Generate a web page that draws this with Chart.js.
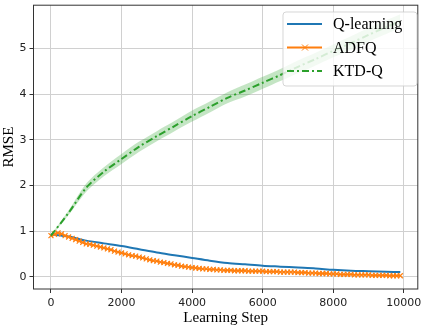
<!DOCTYPE html>
<html>
<head>
<meta charset="utf-8">
<script src="https://cdn.jsdelivr.net/npm/chart.js@4.4.1/dist/chart.umd.min.js"></script>
<style>
  body { margin: 0; background: #fff; }
</style>
</head>
<body>
<canvas id="rmseChart" width="423" height="327"></canvas>
<script>
// ADFQ is logged every 100 steps
const adfqSteps = Array.from({ length: 100 }, (_, i) => i * 100);
const adfqRmse = [
  0.90, 0.93, 0.96, 0.94, 0.90, 0.87, 0.84, 0.81, 0.78, 0.75,
  0.72, 0.71, 0.69, 0.67, 0.65, 0.63, 0.61, 0.59, 0.56, 0.54,
  0.52, 0.50, 0.48, 0.46, 0.45, 0.43, 0.41, 0.39, 0.37, 0.35,
  0.34, 0.32, 0.31, 0.29, 0.28, 0.26, 0.25, 0.23, 0.22, 0.21,
  0.20, 0.19, 0.18, 0.17, 0.17, 0.16, 0.16, 0.15, 0.15, 0.14,
  0.14, 0.14, 0.13, 0.13, 0.13, 0.13, 0.12, 0.12, 0.12, 0.12,
  0.12, 0.11, 0.11, 0.11, 0.11, 0.10, 0.10, 0.10, 0.10, 0.10,
  0.09, 0.09, 0.09, 0.08, 0.08, 0.08, 0.07, 0.07, 0.07, 0.06,
  0.06, 0.06, 0.05, 0.05, 0.05, 0.05, 0.04, 0.04, 0.04, 0.04,
  0.04, 0.03, 0.03, 0.03, 0.03, 0.03, 0.02, 0.02, 0.02, 0.02
];

// Q-learning and KTD-Q read every 500 steps
const steps = [0, 500, 1000, 1500, 2000, 2500, 3000, 3500, 4000, 4500, 5000,
  5500, 6000, 6500, 7000, 7500, 8000, 8500, 9000, 9500, 9900];
const qRmse = [0.93, 0.88, 0.79, 0.73, 0.67, 0.60, 0.53, 0.47, 0.41, 0.35, 0.30,
  0.27, 0.24, 0.22, 0.20, 0.18, 0.15, 0.13, 0.12, 0.11, 0.10];
const ktdRmse = [0.90, 1.40, 1.95, 2.30, 2.58, 2.85, 3.08, 3.30, 3.52, 3.72, 3.92,
  4.08, 4.25, 4.42, 4.60, 4.77, 4.95, 5.12, 5.30, 5.47, 5.60];
const ktdStd = [0.02, 0.05, 0.09, 0.10, 0.11, 0.11, 0.11, 0.11, 0.12, 0.12, 0.12,
  0.13, 0.13, 0.13, 0.14, 0.14, 0.14, 0.15, 0.15, 0.15, 0.15];

const xTicks = [0, 2000, 4000, 6000, 8000, 10000];
const yTicks = [0, 1, 2, 3, 4, 5];

const BLUE = "#1f77b4";
const ORANGE = "#ff7f0e";
const GREEN = "#2ca02c";
const KTD_DASH = [7, 3, 2, 3];

const pts = (xs, ys) => xs.map((x, i) => ({ x: x, y: ys[i] }));

// spines + legend, matplotlib style
const frameLegend = {
  id: "frameLegend",
  afterDraw(chart) {
    const { ctx, chartArea: a } = chart;
    ctx.save();
    ctx.strokeStyle = "#333";
    ctx.lineWidth = 1;
    ctx.strokeRect(a.left, a.top, a.right - a.left, a.bottom - a.top);

    // legend box
    const bx = 283, by = 12, bw = 134, bh = 74, r = 3;
    ctx.beginPath();
    ctx.roundRect(bx, by, bw, bh, r);
    ctx.fillStyle = "rgba(255,255,255,0.8)";
    ctx.fill();
    ctx.strokeStyle = "rgba(204,204,204,0.8)";
    ctx.stroke();

    const items = [
      { label: "Q-learning", color: BLUE, dash: [], marker: false },
      { label: "ADFQ", color: ORANGE, dash: [], marker: true },
      { label: "KTD-Q", color: GREEN, dash: KTD_DASH, marker: false },
    ];
    items.forEach((it, i) => {
      const y = 24 + i * 23.5;
      ctx.beginPath();
      ctx.setLineDash(it.dash);
      ctx.strokeStyle = it.color;
      ctx.lineWidth = 2;
      ctx.moveTo(287, y);
      ctx.lineTo(322, y);
      ctx.stroke();
      ctx.setLineDash([]);
      if (it.marker) {
        ctx.lineWidth = 1;
        ctx.beginPath();
        ctx.moveTo(302, y - 3); ctx.lineTo(308, y + 3);
        ctx.moveTo(308, y - 3); ctx.lineTo(302, y + 3);
        ctx.stroke();
      }
      ctx.fillStyle = "#000";
      ctx.font = "16px 'Liberation Serif'";
      ctx.textBaseline = "middle";
      ctx.fillText(it.label, 333, y + 1);
    });
    ctx.restore();
  },
};

const ctx = document.getElementById("rmseChart");

new Chart(ctx, {
  type: "line",
  data: {
    datasets: [
      {
        label: "KTD-Q",
        data: pts(steps, ktdRmse),
        borderColor: GREEN,
        borderWidth: 2,
        borderDash: KTD_DASH,
        pointRadius: 0,
        tension: 0.3,
        fill: false,
      },
      {
        label: "ktd upper",
        data: pts(steps, ktdRmse.map((v, i) => v + ktdStd[i])),
        borderWidth: 0,
        pointRadius: 0,
        tension: 0.3,
        fill: false,
      },
      {
        label: "ktd lower",
        data: pts(steps, ktdRmse.map((v, i) => v - ktdStd[i])),
        borderWidth: 0,
        pointRadius: 0,
        tension: 0.3,
        fill: "-1",
        backgroundColor: "rgba(44,160,44,0.28)",
      },
      {
        label: "ADFQ",
        data: pts(adfqSteps, adfqRmse),
        borderColor: ORANGE,
        borderWidth: 1.5,
        pointStyle: "crossRot",
        pointRadius: 3.5,
        pointBorderWidth: 1.2,
        pointBorderColor: ORANGE,
        tension: 0,
        fill: false,
      },
      {
        label: "Q-learning",
        data: pts(steps, qRmse),
        borderColor: BLUE,
        borderWidth: 2,
        pointRadius: 0,
        tension: 0.3,
        fill: false,
      },
    ],
  },
  options: {
    responsive: false,
    animation: false,
    events: [],
    layout: { padding: { top: 3, right: 5, left: 0, bottom: 0 } },
    plugins: {
      legend: { display: false },
      tooltip: { enabled: false },
    },
    scales: {
      x: {
        type: "linear",
        min: -495,
        max: 10395,
        afterFit: (s) => { s.height = 38; s.paddingLeft = 0; s.paddingRight = 0; },
        afterBuildTicks: (s) => { s.ticks = xTicks.map((v) => ({ value: v })); },
        grid: { color: "#d0d0d0", tickColor: "#333", tickLength: 4 },
        border: { display: false },
        ticks: {
          color: "#222",
          font: { family: "DejaVu Sans", size: 11 },
          padding: 4,
          maxRotation: 0,
          callback: (v) => String(v),
        },
        title: {
          display: true,
          text: "Learning Step",
          color: "#000",
          font: { family: "Liberation Serif", size: 15 },
          padding: { top: 0, bottom: 0 },
        },
      },
      y: {
        min: -0.27,
        max: 5.95,
        afterFit: (s) => { s.width = 33.5; s.paddingTop = 0; s.paddingBottom = 0; },
        afterBuildTicks: (s) => { s.ticks = yTicks.map((v) => ({ value: v })); },
        grid: { color: "#d0d0d0", tickColor: "#333", tickLength: 4 },
        border: { display: false },
        ticks: {
          color: "#222",
          font: { family: "DejaVu Sans", size: 11 },
          padding: 3,
          callback: (v) => String(v),
        },
        title: {
          display: true,
          text: "RMSE",
          color: "#000",
          font: { family: "Liberation Serif", size: 15 },
          padding: { top: 0, bottom: 0 },
        },
      },
    },
  },
  plugins: [frameLegend],
});
</script>
</body>
</html>
